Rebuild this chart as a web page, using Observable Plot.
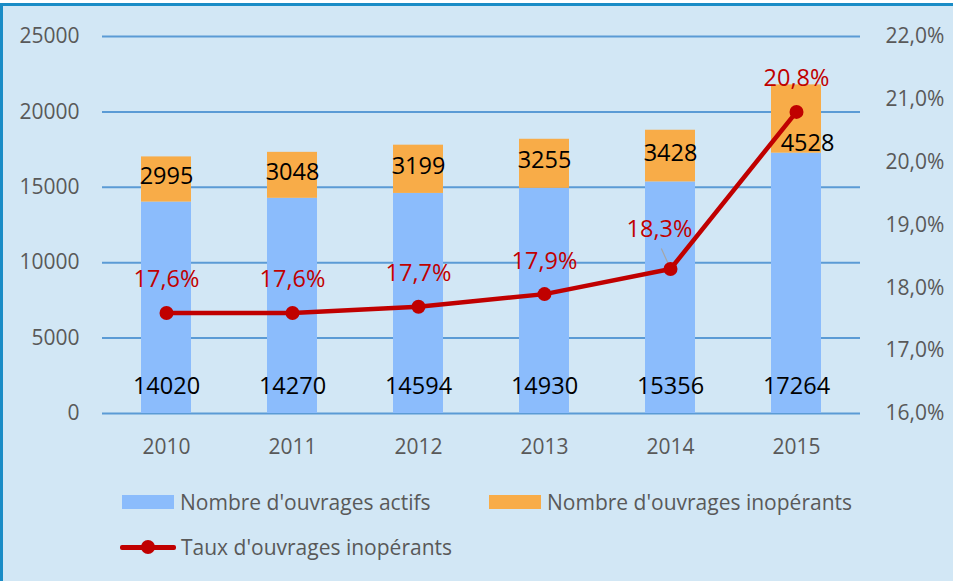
<!DOCTYPE html>
<html>
<head>
<meta charset="utf-8">
<script src="https://cdn.jsdelivr.net/npm/d3@7"></script>
<script src="https://cdn.jsdelivr.net/npm/@observablehq/plot@0.6"></script>
<style>
  html, body { margin: 0; padding: 0; background: #ffffff; }
  #frame {
    position: absolute; left: 0; top: 3px; width: 950px; height: 575px;
    background: #d2e7f5; border-top: 3px solid #1a8cc6; border-left: 3px solid #1a8cc6;
  }
  #chart { position: absolute; left: 0; top: 0; }
  #legend { position: absolute; left: 0; top: 470px; width: 953px; height: 111px;
    font-family: "Open Sans", sans-serif; font-size: 21px; color: #595959; }
  .item { position: absolute; display: flex; align-items: center; white-space: nowrap; line-height: 24px; }
  .sw { display: inline-block; width: 52px; height: 14px; margin-right: 6px; }
  .ln { position: relative; display: inline-block; width: 56px; height: 14px; margin-right: 5px; }
  .ln::before { content: ""; position: absolute; left: 0; right: 0; top: 5px; height: 4.5px; background: #c00000; border-radius: 2px; }
  .ln::after { content: ""; position: absolute; left: 21px; top: 0; width: 14px; height: 14px; border-radius: 50%; background: #c00000; }
</style>
</head>
<body>
<div id="frame"></div>
<div id="chart"></div>
<div id="legend">
  <div class="item" style="left:122px; top:20px;"><span class="sw" style="background:#8bbcfc"></span>Nombre d'ouvrages actifs</div>
  <div class="item" style="left:489px; top:20px;"><span class="sw" style="background:#f8ac48"></span>Nombre d'ouvrages inopérants</div>
  <div class="item" style="left:120px; top:65px;"><span class="ln"></span>Taux d'ouvrages inopérants</div>
</div>
<script>
const years = ["2010", "2011", "2012", "2013", "2014", "2015"];
const actifs = [14020, 14270, 14594, 14930, 15356, 17264];
const inoperants = [2995, 3048, 3199, 3255, 3428, 4528];
const taux = [17.6, 17.6, 17.7, 17.9, 18.3, 20.8];
const leftTicks = [0, 5000, 10000, 15000, 20000, 25000];
const rightTicks = [16, 17, 18, 19, 20, 21, 22];
const serieActifs = "Nombre d'ouvrages actifs";
const serieInop = "Nombre d'ouvrages inopérants";

// map percentage (right axis, 16%–22%) to left-axis units (0–25000)
const pctToY = p => (p - 16) / (22 - 16) * 25000;
const fmtPct = p => p.toFixed(1).replace(".", ",") + "%";

const bars = [];
years.forEach((y, i) => {
  bars.push({year: y, serie: serieActifs, value: actifs[i], base: 0});
  bars.push({year: y, serie: serieInop, value: inoperants[i], base: actifs[i]});
});
const line = years.map((y, i) => ({year: y, taux: taux[i], yv: pctToY(taux[i])}));
const orangeLabels = years.map((y, i) => ({year: y, v: inoperants[i], base: actifs[i], mid: actifs[i] + inoperants[i] / 2}));
const blueLabels = years.map((y, i) => ({year: y, v: actifs[i]}));

const chart = Plot.plot({
  width: 953,
  height: 470,
  marginTop: 36,
  marginBottom: 57,
  marginLeft: 102,
  marginRight: 93,
  style: {background: "transparent", fontFamily: "'Open Sans', sans-serif", fontSize: "21px", color: "#595959"},
  x: {domain: years, paddingInner: 0.6, paddingOuter: 0.3, label: null},
  y: {domain: [0, 25000], label: null},
  color: {domain: [serieActifs, serieInop], range: ["#8bbcfc", "#f8ac48"]},
  marks: [
    Plot.ruleY(leftTicks, {stroke: "#5b9bd5", strokeWidth: 2}),
    Plot.barY(bars, {x: "year", y1: "base", y2: d => d.base + d.value, fill: "serie"}),
    Plot.axisY({ticks: leftTicks, tickSize: 0, tickPadding: 23, tickFormat: d => String(d), label: null, fontSize: 21}),
    Plot.axisY({anchor: "right", ticks: rightTicks.map(pctToY), tickSize: 0, tickPadding: 25, fontSize: 21,
      textAnchor: "start", tickFormat: v => fmtPct(16 + v / 25000 * 6), label: null}),
    Plot.axisX({tickSize: 0, tickPadding: 26, label: null, fontSize: 21}),
    Plot.text(blueLabels, {x: "year", y: 0, text: d => String(d.v), dy: -27, fontSize: 23.5, fill: "#000"}),
    Plot.text(orangeLabels.filter(d => d.year !== "2015"), {x: "year", y: "mid", text: d => String(d.v), dy: -3, fontSize: 23.5, fill: "#000"}),
    Plot.text(orangeLabels.filter(d => d.year === "2015"), {x: "year", y: "base", text: d => String(d.v), dy: -10, dx: 11, fontSize: 23.5, fill: "#000"}),
    Plot.vector(line.filter(d => d.year === "2014"), {x: "year", y: "yv", length: 22, rotate: -24, anchor: "start",
      stroke: "#a6a6a6", strokeWidth: 1.2,
      shape: {draw(ctx, l) { ctx.moveTo(0, 0); ctx.lineTo(0, -l); }}}),
    Plot.line(line, {x: "year", y: "yv", stroke: "#c00000", strokeWidth: 4.5, curve: "linear"}),
    Plot.dot(line, {x: "year", y: "yv", r: 7, fill: "#c00000"}),
    Plot.text(line.filter(d => d.year !== "2014"), {x: "year", y: "yv", text: d => fmtPct(d.taux), dy: -33, fontSize: 23.5, fill: "#c00000"}),
    Plot.text(line.filter(d => d.year === "2014"), {x: "year", y: "yv", text: d => fmtPct(d.taux), dy: -40, dx: -11, fontSize: 23.5, fill: "#c00000"})
  ]
});
document.getElementById("chart").appendChild(chart);
</script>
</body>
</html>
